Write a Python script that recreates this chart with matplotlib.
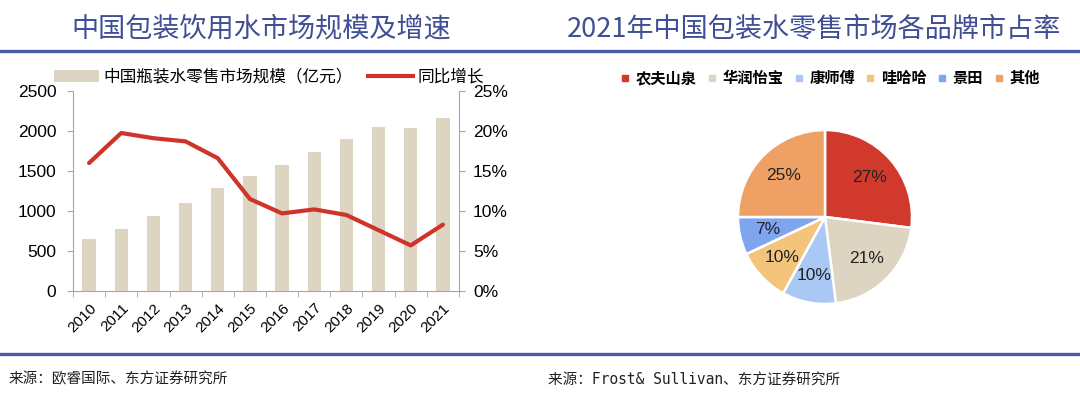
import matplotlib
matplotlib.use("Agg")
import matplotlib.pyplot as plt
from matplotlib.lines import Line2D
from matplotlib.patches import Patch
from matplotlib.ticker import FuncFormatter, MultipleLocator, FixedLocator
import numpy as np

plt.rcParams['font.family'] = ['Noto Sans CJK SC', 'DejaVu Sans']

# ---------------- data ----------------
years = ['2010', '2011', '2012', '2013', '2014', '2015',
         '2016', '2017', '2018', '2019', '2020', '2021']
market_size = [650, 779, 933, 1104, 1292, 1433, 1575, 1733, 1900, 2046, 2038, 2167]
yoy_growth = [16.0, 19.75, 19.1, 18.7, 16.6, 11.5, 9.7, 10.2, 9.5, 7.6, 5.7, 8.3]

brands = ['农夫山泉', '华润怡宝', '康师傅', '哇哈哈', '景田', '其他']
shares = [27, 21, 10, 10, 7, 25]

title_left = '中国包装饮用水市场规模及增速'
title_right = '2021年中国包装水零售市场各品牌市占率'
bar_label = '中国瓶装水零售市场规模（亿元）'
line_label = '同比增长'
source_left = '来源：欧睿国际、东方证券研究所'
source_right = '来源：Frost& Sullivan、东方证券研究所'

# ---------------- styling ----------------
W, H = 1080, 399
fig = plt.figure(figsize=(W / 100, H / 100), dpi=100)
fig.patch.set_facecolor('white')

title_color = '#3F4E95'
bar_color = '#DDD5C1'
line_color = '#CF3329'
pie_colors = ['#D0392B', '#DDD5C1', '#AAC8F4', '#F4C47C', '#7FA5EE', '#EFA065']
spine_color = '#A6A6A6'
num_font = ['Liberation Sans', 'DejaVu Sans']


def px_axes(x0, y0, x1, y1):
    """axes from pixel box (top-left origin)"""
    return fig.add_axes([x0 / W, 1 - y1 / H, (x1 - x0) / W, (y1 - y0) / H])


# titles
fig.text(261 / W, 1 - 29 / H, title_left, ha='center', va='center',
         fontsize=19.5, color=title_color)
fig.text(814 / W, 1 - 29 / H, title_right, ha='center', va='center',
         fontsize=19.5, color=title_color)

# separator lines
fig.add_artist(Line2D([0, 1], [1 - 51 / H, 1 - 51 / H], color='#4A5AA3', lw=2.4,
                      transform=fig.transFigure))
fig.add_artist(Line2D([0, 1], [1 - 354 / H, 1 - 354 / H], color='#4A5AA3', lw=2.4,
                      transform=fig.transFigure))

# sources
fig.text(9 / W, 1 - 379 / H, source_left, ha='left', va='center', fontsize=10.5,
         color='#222222')
fig.text(548 / W, 1 - 379 / H, source_right, ha='left', va='center', fontsize=10.5,
         color='#222222', family=['DejaVu Sans Mono', 'Noto Sans CJK SC'])

# ---------------- left chart ----------------
ax = px_axes(73, 91, 459, 291)
x = np.arange(len(years))
ax.bar(x, market_size, width=0.41, color=bar_color, zorder=2)
ax.set_xlim(-0.5, len(years) - 0.5)
ax.set_ylim(0, 2500)
ax.yaxis.set_major_locator(MultipleLocator(500))
ax.set_xticks(x)
ax.set_xticklabels(years, rotation=45, ha='right', rotation_mode='anchor',
                   fontsize=11, family=num_font)
ax.xaxis.set_minor_locator(FixedLocator(np.arange(-0.5, len(years), 1)))
ax.tick_params(axis='x', which='major', length=0, pad=7)
ax.tick_params(axis='x', which='minor', length=4, color=spine_color, direction='out')
ax.tick_params(axis='y', length=4, color=spine_color, direction='out', pad=8)
for lab in ax.get_yticklabels():
    lab.set_fontsize(12.5)
    lab.set_family(num_font)
for s in ['top', 'right']:
    ax.spines[s].set_visible(False)
for s in ['left', 'bottom']:
    ax.spines[s].set_color(spine_color)

ax2 = ax.twinx()
ax2.plot(x, yoy_growth, color=line_color, lw=3, solid_capstyle='round',
         solid_joinstyle='round', zorder=3)
ax2.set_ylim(0, 25)
ax2.yaxis.set_major_locator(MultipleLocator(5))
ax2.yaxis.set_major_formatter(FuncFormatter(lambda v, p: f'{v:.0f}%'))
ax2.tick_params(axis='y', length=4, color=spine_color, direction='out', pad=6)
for lab in ax2.get_yticklabels():
    lab.set_fontsize(12.5)
    lab.set_family(num_font)
for s in ['top', 'left', 'bottom']:
    ax2.spines[s].set_visible(False)
ax2.spines['right'].set_color(spine_color)
ax2.set_xlim(-0.5, len(years) - 0.5)

# left legend
handles = [Patch(facecolor=bar_color, edgecolor='none'),
           Line2D([0], [0], color=line_color, lw=3)]
fig.legend(handles, [bar_label, line_label], loc='center',
           bbox_to_anchor=(269 / W, 1 - 77 / H), ncol=2, frameon=False,
           fontsize=12, handlelength=2.7, handleheight=0.7, handletextpad=0.3,
           columnspacing=0.9, borderaxespad=0, borderpad=0)

# ---------------- right chart (pie) ----------------
cx, cy, r = 825, 217, 87
pax = px_axes(cx - r, cy - r, cx + r, cy + r)
wedges, _, autotexts = pax.pie(shares, colors=pie_colors, startangle=90,
                               counterclock=False, autopct='%d%%',
                               pctdistance=0.68,
                               wedgeprops=dict(edgecolor='white', linewidth=1.8),
                               textprops=dict(fontsize=12.5, color='#222222',
                                              family=num_font))
pax.set_xlim(-1, 1)
pax.set_ylim(-1, 1)
pax.set_aspect('equal')
pax.axis('off')

pie_handles = [Line2D([0], [0], marker='s', linestyle='none', markersize=4.5,
                      markerfacecolor=c, markeredgecolor=c) for c in pie_colors]
fig.legend(pie_handles, brands, loc='center', bbox_to_anchor=(830 / W, 1 - 78 / H),
           ncol=6, frameon=False, handlelength=0.6,
           handletextpad=0.4, columnspacing=0.7, borderaxespad=0, borderpad=0,
           prop=dict(size=11, weight='bold'))

fig.savefig('out.png', dpi=100, facecolor='white')
